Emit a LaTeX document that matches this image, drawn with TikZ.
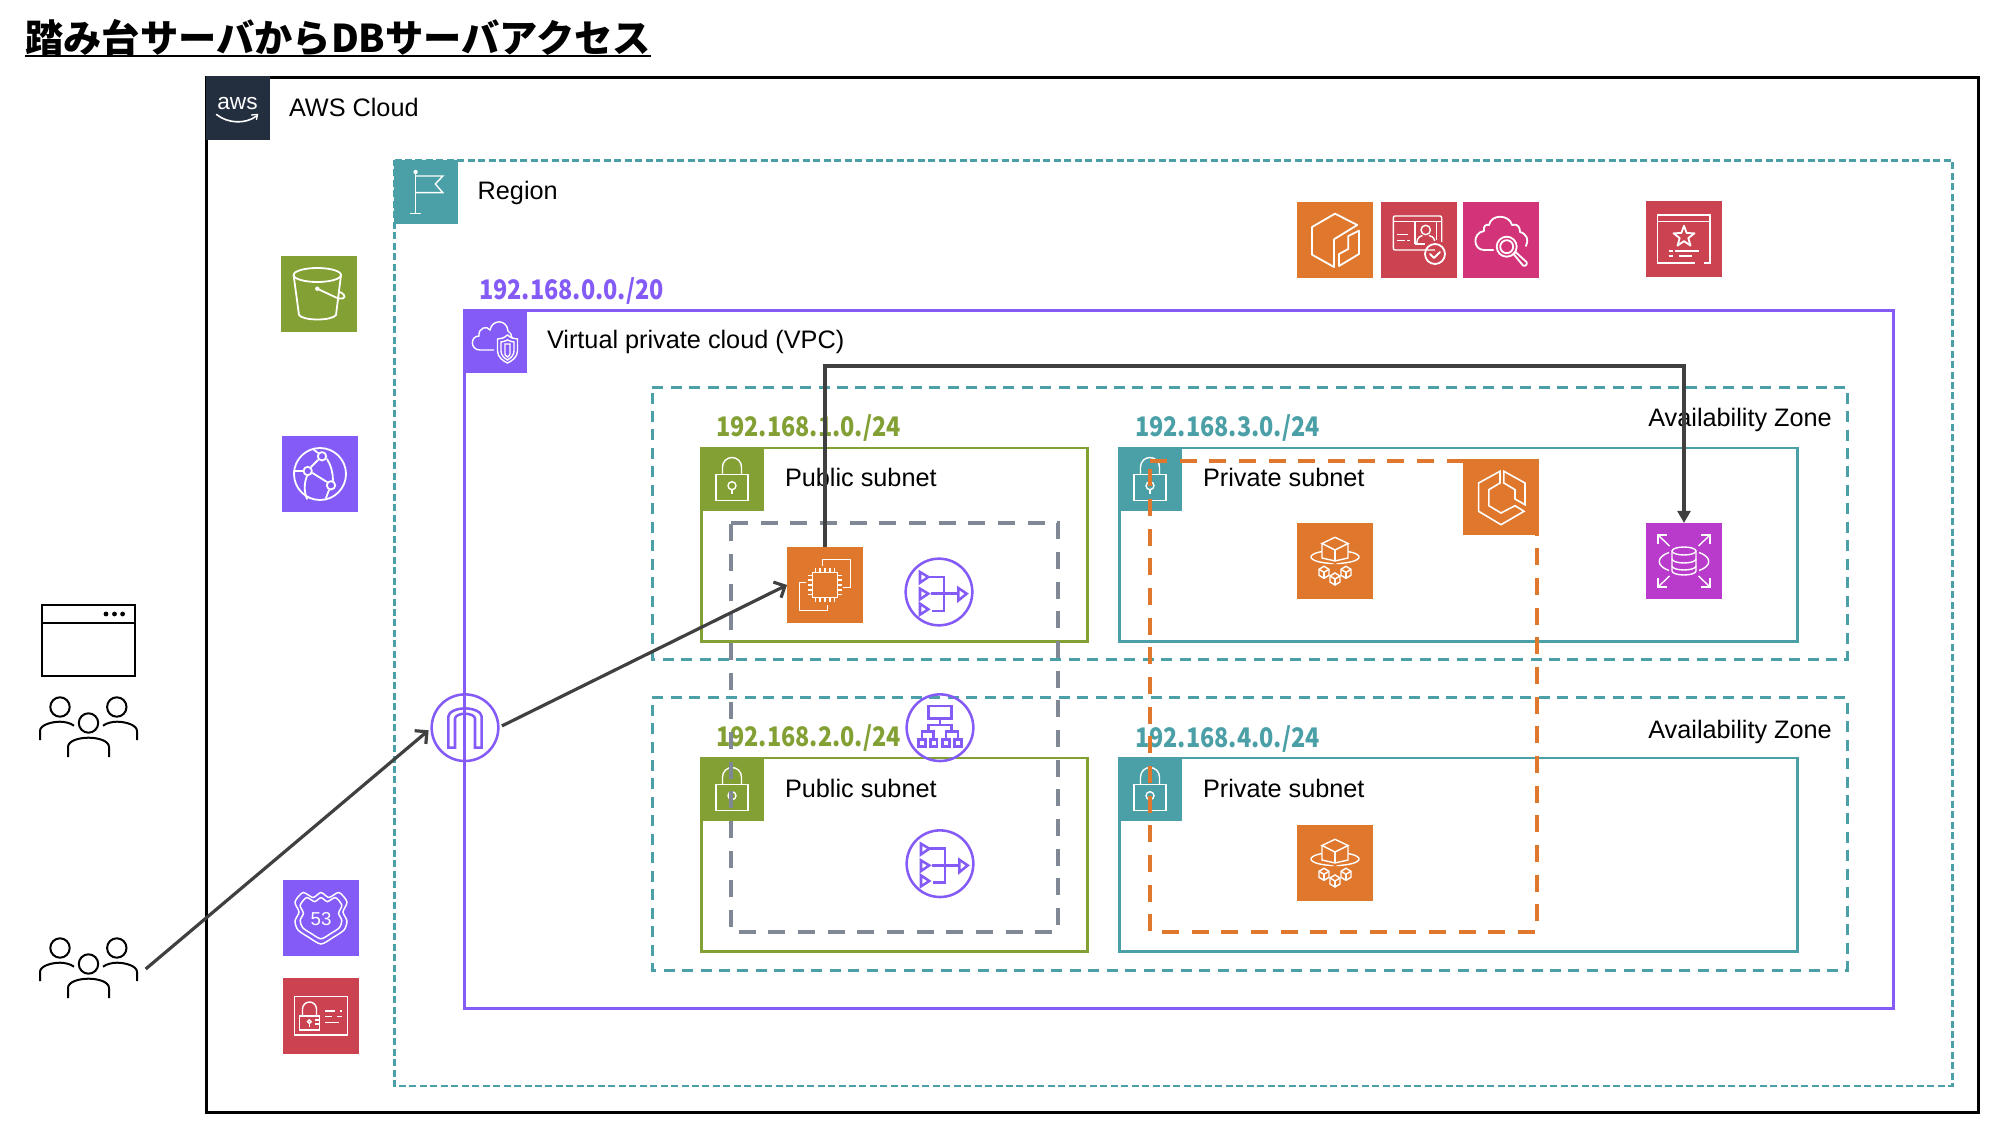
\documentclass[tikz,border=0pt]{standalone}
\usepackage{fontspec}
\setmainfont{Liberation Sans}
\newfontfamily\cjk{Noto Sans CJK JP}
\newfontfamily\cjkn[FakeStretch=0.87]{Noto Sans CJK JP}
\usetikzlibrary{arrows.meta}
\definecolor{awsdark}{HTML}{232F3E}
\definecolor{cteal}{HTML}{4AA0A6}
\definecolor{cgreen}{HTML}{83A034}
\definecolor{cpurple}{HTML}{845BF6}
\definecolor{corange}{HTML}{DF772D}
\definecolor{cred}{HTML}{CB4250}
\definecolor{cpink}{HTML}{D33379}
\definecolor{cmag}{HTML}{B93BCB}
\definecolor{cgray}{HTML}{808895}
\definecolor{carrow}{HTML}{404040}
\tikzset{
 ic/.style={draw=white,line width=1.35pt,line join=round,line cap=round},
 ict/.style={draw=white,line width=1.05pt,line join=miter},
 icp/.style={draw=cpurple,line width=1.9pt,line join=miter},
 ick/.style={draw=black,line width=1.5pt},
 iconbox/.style={rectangle,minimum width=57pt,minimum height=57pt,inner sep=0pt,outer sep=0pt},
 hdbox/.style={rectangle,minimum width=48pt,minimum height=48pt,inner sep=0pt,outer sep=0pt},
 gwcircle/.style={circle,draw=cpurple,line width=1.9pt,minimum size=50pt,inner sep=0pt,outer sep=0pt},
 groupbox/.style={rectangle,minimum width=85.8pt,minimum height=45pt,inner sep=0pt,outer sep=0pt},
 txt/.style={anchor=base west,inner sep=0pt,outer sep=0pt,font=\fontsize{18.95pt}{22pt}\selectfont},
 cidr/.style={anchor=base west,inner sep=0pt,outer sep=0pt,font=\cjkn\bfseries\fontsize{20.2pt}{24pt}\selectfont},
 az/.style={draw=cteal,line width=2pt,dash pattern=on 8.25pt off 5.6pt},
 reg/.style={draw=cteal,line width=2pt,dash pattern=on 5.25pt off 2.6pt},
 subg/.style={draw=cgreen,line width=2pt},
 subt/.style={draw=cteal,line width=2pt},
 grpgray/.style={draw=cgray,line width=3pt,dash pattern=on 12.75pt off 9.5pt},
 grporange/.style={draw=corange,line width=3pt,dash pattern=on 12.75pt off 9.5pt},
 arrline/.style={draw=carrow,line width=2.4pt,line join=miter},
 barb/.style={arrline,-{Straight Barb[length=6.5pt,width=13pt,line width=2.4pt]}},
 solid tip/.style={arrline,-{Triangle[length=9pt,width=9.5pt]}},
 lockicon/.pic={
  \draw[ict] (-16,-4.3) rectangle (16,21.3);
  \draw[ict] (-9.5,-4.3) -- (-9.5,-12) arc[start angle=180,end angle=360,radius=9.5] -- (9.5,-4.3);
  \draw[ict] (0,6.7) circle[radius=4];
  \draw[ict] (0,10.7) -- (0,15.5);
 },
 flagicon/.pic={
  \draw[ict] (-10.4,-20) -- (-10.4,21.3);
  \fill[white] (-10.4,-20) circle[radius=2.2];
  \draw[ict] (-10.4,-16) -- (16.9,-16) -- (9.3,-8) -- (16.9,0.7) -- (-10.4,0.7);
  \draw[ict] (-16,21.3) -- (-5,21.3);
 },
 awsicon/.pic={
  \node[inner sep=0pt,text=white,font=\fontsize{17pt}{20pt}\selectfont,anchor=base] (awstxt) at (0,0.8) {aws};
  \draw[draw=white,line width=1.2pt,line cap=round] (-21,6) .. controls (-10,15) and (8,16) .. (19,7.5);
  \draw[draw=white,line width=1pt,line cap=round] (14,6.5) -- (20,6) -- (19,11);
 },
 vpcicon/.pic={
  \draw[ict] (-1,9) -- (-15,9) .. controls (-25,9) and (-25,-5) .. (-16,-5) .. controls (-17,-13) and (-8,-16) .. (-5,-11) .. controls (-3,-22) and (12,-22) .. (13,-10) .. controls (15,-9) and (17,-6) .. (17,-3);
  \draw[ict] (12.5,-6) .. controls (9,-3) and (6,-2) .. (2.5,-2) -- (2.5,10) .. controls (2.5,16) and (8,20) .. (12.5,22) .. controls (17,20) and (22.5,16) .. (22.5,10) -- (22.5,-2) .. controls (19,-2) and (16,-3) .. (12.5,-6) -- cycle;
  \draw[ict] (12.5,-1) .. controls (10,0) and (8,1) .. (6,1) -- (6,10) .. controls (6,14) and (9,17) .. (12.5,19) .. controls (16,17) and (19,14) .. (19,10) -- (19,1) .. controls (17,1) and (15,0) .. (12.5,-1) -- cycle;
  \draw[ict] (10,3) -- (10,13) .. controls (10,14) and (11,15) .. (12.5,16) .. controls (14,15) and (15,14) .. (15,13) -- (15,3) -- cycle;
 },
 sthreeicon/.pic={
  \draw[ic] (-1.7,-19) ellipse[x radius=23.7,y radius=7];
  \draw[ic] (-25.4,-19) -- (-20,21) .. controls (-16,27) and (13,27) .. (17,21) -- (22,-19);
  \fill[white] (-1.7,-5.3) circle[radius=2.2];
  \draw[ic] (-1.7,-5.3) -- (17,3.5) .. controls (23,6) and (27,4) .. (25,1) .. controls (24,-1) and (21,-2) .. (20,-2);
 },
 cficon/.pic={
  \draw[ic] (0,0) circle[radius=26];
  \draw[ic] (2,-17.7) circle[radius=4.2];
  \draw[ic] (-12.3,-3) circle[radius=4.2];
  \draw[ic] (11,11.3) circle[radius=4.2];
  \draw[ic] (-9,-7) -- (-2,-14);
  \draw[ic] (-7.5,-1) -- (7,8);
  \draw[ic] (7,-15) .. controls (11,-9) and (13,-1) .. (13,6.5);
  \draw[ic] (-26,-3) -- (-17,-3);
  \draw[ic] (-13,2) .. controls (-16,9) and (-16,18) .. (-13,25);
  \draw[ic] (9,16) -- (6,24);
  \draw[ic] (-7,-25) -- (-2,-21);
 },
 rfiftyicon/.pic={
  \foreach \s in {1,0.8}{
   \draw[draw=white,line width=1.1pt,scale=\s] plot[smooth cycle,tension=.45] coordinates {(0,-25.5) (-8,-20.5) (-18,-25.5) (-26,-16) (-22,-6) (-26,3) (-23,12) (-12,19.5) (0,26) (12,19.5) (23,12) (26,3) (22,-6) (26,-16) (18,-25.5) (8,-20.5)};
  }
  \node[inner sep=0pt,text=white,font=\fontsize{14pt}{16pt}\selectfont] (rftxt) at (0,1) {53};
 },
 idlockicon/.pic={
  \draw[ict] (-26.3,-19.3) rectangle (26.3,19);
  \draw[ict] (-21.7,0) rectangle (-1.7,14);
  \draw[ict] (-18.5,0) -- (-18.5,-7) arc[start angle=180,end angle=360,radius=7] -- (-4.5,0);
  \draw[ict] (-11.7,5.7) circle[radius=1.8];
  \draw[ict] (-11.7,7.5) -- (-11.7,11);
  \draw[ict] (-6,4) -- (-1.7,4); \draw[ict] (-6,8) -- (-1.7,8);
  \draw[ict] (4,-5) -- (14,-5); \draw[ict] (19,-5) -- (21,-5);
  \draw[ict] (4,0.7) -- (10.7,0.7); \draw[ict] (15.7,0.7) -- (21,0.7);
  \draw[ict] (4,6.7) -- (18,6.7);
 },
 cubeicon/.pic={
  \draw[ic] (0,-26.3) -- (22.3,-15) -- (-1,-0.7) -- (-1,27) -- (-23,14.7) -- (-23,-13) -- cycle;
  \draw[ic] (24,-9.3) -- (24,14) -- (4,26) -- (4,14) -- (13.3,9) -- (13.3,-4) -- cycle;
 },
 idcheckicon/.pic={
  \draw[ict] (16,10) -- (-23.7,10) .. controls (-25,10) and (-25.7,9.5) .. (-25.7,8) -- (-25.7,-22) .. controls (-25.7,-23.5) and (-25,-24) .. (-23.7,-24) -- (20.7,-24) .. controls (22,-24) and (22.7,-23.5) .. (22.7,-22) -- (22.7,2);
  \draw[ict] (-25.7,-18.3) -- (22.7,-18.3);
  \draw[ict] (-4,4) -- (-4,-18.3) -- (17.7,-18.3) -- (17.7,0);
  \draw[ict] (-4,4) -- (6,4);
  \draw[ict] (6.7,-10) circle[radius=4.7];
  \draw[ict] (-2.3,3) .. controls (-2,-3) and (2,-4) .. (3.5,-4.5);
  \draw[ict] (15.7,1) .. controls (15,-3) and (12,-4) .. (10,-4.5);
  \draw[ict] (-21.7,-5.7) -- (-11,-5.7);
  \draw[ict] (-21.7,0.7) -- (-14,0.7); \draw[ict] (-12,0.7) -- (-9,0.7);
  \draw[ic] (16,14) circle[radius=10];
  \draw[ic] (11,14) -- (15,18) -- (21,12);
 },
 cloudsearchicon/.pic={
  \draw[ic] (-7.7,10) -- (-17,10) .. controls (-28,10) and (-29,-7) .. (-17,-9) .. controls (-18,-14) and (-15,-16) .. (-12,-15) .. controls (-10,-26) and (8,-26) .. (11,-15) .. controls (17,-17) and (19,-12) .. (19,-8) .. controls (26,-6) and (28,0) .. (25,6);
  \draw[ic] (5.7,6.7) circle[radius=10];
  \draw[ic] (5.7,6.7) circle[radius=6.5];
  \draw[ic] (12.5,14) -- (14.5,12) -- (25.5,22) .. controls (27,24) and (24,27) .. (22,25.5) -- (12.5,14);
 },
 starcerticon/.pic={
  \draw[ict] (11,24) -- (-26.3,24) -- (-26.3,-24) -- (26,-24) -- (26,24) -- (20,24);
  \draw[ict] (-26.3,-17.3) -- (26,-17.3);
  \draw[ic] (0,-13.3) -- (2.6,-6) -- (10.5,-5.7) -- (4.3,-0.9) -- (6.5,6.6) -- (0,2.2) -- (-6.5,6.6) -- (-4.3,-0.9) -- (-10.5,-5.7) -- (-2.6,-6) -- cycle;
  \draw[ict] (-15.5,12) -- (-11,12); \draw[ict] (-9,12) -- (15,12);
  \draw[ict] (-15.5,17) -- (-11,17); \draw[ict] (-5.5,17) -- (7.5,17);
 },
 ectwoicon/.pic={
  \draw[ict] (-12.7,-12.3) rectangle (12.3,12.7);
  \foreach \d in {-9.7,-5,0,5,9.3}{
   \draw[ict] (\d,-12.3) -- (\d,-16.5);
   \draw[ict] (\d,12.7) -- (\d,17);
   \draw[ict] (-12.7,\d) -- (-17,\d);
   \draw[ict] (12.3,\d) -- (16.5,\d);
  }
  \draw[ict] (-2.3,-19.3) -- (-2.3,-25.7) -- (25.7,-25.7) -- (25.7,2.3) -- (18.3,2.3);
  \draw[ict] (-19,-2.3) -- (-25.7,-2.3) -- (-25.7,25.7) -- (2.3,25.7) -- (2.3,20);
 },
 ecsicon/.pic={
  \draw[ict,line width=1.2pt] (-1,-25.7) -- (-22.4,-14) -- (-22.4,14.3) -- (0,27.7) -- (23,14.3) -- (14,8.7) -- (0,16) -- (-12.2,8.7) -- (-12.2,-7.3) -- (-1,-14) -- cycle;
  \draw[ict,line width=1.2pt] (2.9,-25.7) -- (24,-14) -- (24,7.7) -- (14,2) -- (14,-7.3) -- (2.9,-14) -- cycle;
 },
 fargateicon/.pic={
  \draw[ict] (0,-4) ellipse[x radius=24,y radius=6.5];
  \fill[corange] (-13,-17.5) rectangle (13,-1) (-13,-1) -- (0,-0.5) -- (13,-1) -- (0,3) -- cycle;
  \draw[ict] (0,-23.7) -- (13,-17.5) -- (0,-11) -- (-13,-17.5) -- cycle;
  \draw[ict] (-13,-17.5) -- (-13,-3) -- (0,0) -- (13,-3) -- (13,-17.5);
  \draw[ict] (0,-11) -- (0,0);
  \foreach \cx/\cy in {-11/11.3,11/11.3,0/18}{
   \draw[ict] (\cx,\cy-6) -- (\cx+5,\cy-3) -- (\cx+5,\cy+3) -- (\cx,\cy+6) -- (\cx-5,\cy+3) -- (\cx-5,\cy-3) -- cycle;
   \draw[ict] (\cx-5,\cy-3) -- (\cx,\cy) -- (\cx+5,\cy-3);
   \draw[ict] (\cx,\cy) -- (\cx,\cy+6);
  }
 },
 rdsicon/.pic={
  \draw[ict] (-12,-10) -- (-12,10) arc[start angle=180,end angle=0,x radius=12,y radius=4] -- (12,-10);
  \draw[ict] (0,-10) ellipse[x radius=12,y radius=4];
  \draw[ict] (-12,-2) arc[start angle=180,end angle=0,x radius=12,y radius=4];
  \draw[ict] (-12,5) arc[start angle=180,end angle=0,x radius=12,y radius=4];
  \draw[ict] (-15,-8.5) .. controls (-28,-4) and (-28,5) .. (-15,9.5);
  \draw[ict] (15,-8.5) .. controls (28,-4) and (28,5) .. (15,9.5);
  \foreach \sx/\sy in {-1/-1,1/-1,-1/1,1/1}{
   \begin{scope}[xscale=\sx,yscale=\sy]
    \draw[ict] (14.5,15) -- (26,26);
    \draw[ict] (26,17) -- (26,26) -- (17,26);
   \end{scope}
  }
 },
 nat icon/.pic={
  \draw[icp] (-19,-20) -- (-10.7,-15) -- (-19,-9.3) -- cycle;
  \draw[icp] (-19,-3.3) -- (-10.7,1.7) -- (-19,7.3) -- cycle;
  \draw[icp] (-19,11.7) -- (-10.7,17.3) -- (-19,22.7) -- cycle;
  \draw[icp] (-10.7,-15) -- (5,-15) -- (5,19) -- (-7.3,19);
  \draw[icp] (-8.3,1.7) -- (19,1.7);
  \draw[icp] (19.3,-4) -- (27.7,1.7) -- (19.3,8.5) -- cycle;
 },
 alb icon/.pic={
  \draw[icp] (-11.7,-21.7) rectangle (11.7,-9.3);
  \draw[icp] (0,-9.3) -- (0,-2.7);
  \draw[icp] (-11.7,3) -- (-11.7,-2.7) -- (11.7,-2.7) -- (11.7,3);
  \draw[icp] (-18,11.7) -- (-18,4) -- (-6.3,4) -- (-6.3,11.7);
  \draw[icp] (18,11.7) -- (18,4) -- (6,4) -- (6,11.7);
  \foreach \cx in {-18,-6.3,6,18}{\draw[icp] (\cx-3.3,11.7) rectangle (\cx+3.3,19);}
 },
 igw icon/.pic={
  \draw[icp] (-16.7,20) -- (-16.7,-11) .. controls (-16.7,-16) and (-8,-19.3) .. (0,-19.3) .. controls (8,-19.3) and (16.7,-16) .. (16.7,-11) -- (16.7,20) -- (10,20) -- (10,-9) .. controls (10,-12) and (5,-14) .. (0,-14) .. controls (-5,-14) and (-10,-12) .. (-10,-9) -- (-10,20) -- cycle;
 },
 usersicon/.pic={
  \draw[ick] (-28.5,-23) circle[radius=9.7];
  \draw[ick] (28.3,-23) circle[radius=9.7];
  \draw[ick] (0,-7) circle[radius=9.7];
  \draw[ick] (-48.5,10) -- (-48.5,1) .. controls (-48.5,-5) and (-37,-8.3) .. (-28.5,-8.3) .. controls (-24,-8.3) and (-18,-7) .. (-14.5,-4.3);
  \draw[ick] (48.5,10) -- (48.5,1) .. controls (48.5,-5) and (37,-8.3) .. (28.5,-8.3) .. controls (24,-8.3) and (18,-7) .. (14.5,-4.3);
  \draw[ick] (-20.5,27) -- (-20.5,17) .. controls (-20.5,11) and (-10,7.7) .. (0,7.7) .. controls (10,7.7) and (20.5,11) .. (20.5,17) -- (20.5,27);
 },
}
\begin{document}
\begin{tikzpicture}[x=0.75pt,y=-0.75pt]
\useasboundingbox (0,0) rectangle (2010,1126);
\fill[white] (0,0) rectangle (2010,1126);
% title
\node[anchor=base west,inner sep=0pt,font=\cjk\bfseries\fontsize{28.7pt}{32pt}\selectfont] (title) at (25,53) {踏み台サーバからDBサーバアクセス};
\draw[black,line width=2pt] (25,56) -- (651,56);
% containers
\draw[black,line width=2.25pt] (206,77.5) rectangle (1978.3,1112.3);
\draw[reg] (394.5,160.5) -- (1952.3,160.5) -- (1952.3,1086) -- (394.5,1086) -- cycle;
\draw[draw=cpurple,line width=2pt] (464.7,310.5) rectangle (1893.7,1008.3);
\draw[az] (652.3,387.3) -- (1847.3,387.3) -- (1847.3,659.3) -- (652.3,659.3) -- cycle;
\draw[az] (652.3,697.3) -- (1847.3,697.3) -- (1847.3,970.3) -- (652.3,970.3) -- cycle;
\draw[subg] (701.3,448) rectangle (1087.7,641.3);
\draw[subg] (701.3,758) rectangle (1087.7,951.5);
\draw[subt] (1119.5,448) rectangle (1797.3,641.3);
\draw[subt] (1119.5,758) rectangle (1797.3,951.5);
% header icons
\node[hdbox,fill=awsdark] (hdaws) at (237.5,108.5) {};
\pic at (hdaws) {awsicon};
\node[hdbox,fill=cteal] (hdregion) at (426,192) {};
\pic at (hdregion) {flagicon};
\node[hdbox,fill=cpurple] (hdvpc) at (495,341) {};
\pic at (hdvpc) {vpcicon};
\node[hdbox,fill=cgreen] (hdpub1) at (732,479) {};
\pic at (hdpub1) {lockicon};
\node[hdbox,fill=cgreen] (hdpub2) at (732,789) {};
\pic at (hdpub2) {lockicon};
\node[hdbox,fill=cteal] (hdpri1) at (1150,479) {};
\pic at (hdpri1) {lockicon};
\node[hdbox,fill=cteal] (hdpri2) at (1150,789) {};
\pic at (hdpri2) {lockicon};
% texts
\node[txt] (tcloud) at (289,116.7) {AWS Cloud};
\node[txt] (tregion) at (477.7,200) {Region};
\node[txt] (tvpc) at (547,349) {Virtual private cloud (VPC)};
\node[txt] (taz1) at (1648.3,426.7) {Availability Zone};
\node[txt] (taz2) at (1648.3,738) {Availability Zone};
\node[txt] (tpub1) at (785,487) {Public subnet};
\node[txt] (tpub2) at (785,797.7) {Public subnet};
\node[txt] (tpri1) at (1203,487) {Private subnet};
\node[txt] (tpri2) at (1203,797.7) {Private subnet};
\node[cidr,text=cpurple] (cvpc) at (479,300) {192.168.0.0./20};
\node[cidr,text=cgreen] (c1) at (716,436.7) {192.168.1.0./24};
\node[cidr,text=cgreen] (c2) at (716,746.7) {192.168.2.0./24};
\node[cidr,text=cteal] (c3) at (1135,436.7) {192.168.3.0./24};
\node[cidr,text=cteal] (c4) at (1135,747.7) {192.168.4.0./24};
% service icons
\node[iconbox,fill=cgreen] (sthree) at (319,294) {};
\pic at (sthree) {sthreeicon};
\node[iconbox,fill=cpurple] (cf) at (320,474) {};
\pic at (cf) {cficon};
\node[iconbox,fill=cpurple] (rfifty) at (321,918) {};
\pic at (rfifty) {rfiftyicon};
\node[iconbox,fill=cred] (idlock) at (321,1016) {};
\pic at (idlock) {idlockicon};
\node[iconbox,fill=corange] (cube) at (1335,240) {};
\pic at (cube) {cubeicon};
\node[iconbox,fill=cred] (idcheck) at (1419,240) {};
\pic at (idcheck) {idcheckicon};
\node[iconbox,fill=cpink] (cloudsearch) at (1501,240) {};
\pic at (cloudsearch) {cloudsearchicon};
\node[iconbox,fill=cred] (starcert) at (1684,239) {};
\pic at (starcert) {starcerticon};
\node[iconbox,fill=corange] (ec2) at (825,585) {};
\pic at (ec2) {ectwoicon};
\node[gwcircle] (nat1) at (939,592) {};
\pic at (nat1) {nat icon};
\node[gwcircle] (alb) at (940,727.7) {};
\pic at (alb) {alb icon};
\node[gwcircle] (nat2) at (940,863.7) {};
\pic at (nat2) {nat icon};
\node[gwcircle] (igw) at (465,727.7) {};
\pic at (igw) {igw icon};
\node[iconbox,fill=corange] (fargate1) at (1335,561) {};
\pic at (fargate1) {fargateicon};
\node[iconbox,fill=corange] (fargate2) at (1335,863) {};
\pic at (fargate2) {fargateicon};
\node[iconbox,fill=cmag] (rds) at (1684,561) {};
\pic at (rds) {rdsicon};
% group frames
\draw[grpgray] (731,523) -- (1058,523) -- (1058,932) -- (731,932) -- cycle;
\draw[grporange] (1150,460.7) -- (1537,460.7) -- (1537,932) -- (1150,932) -- cycle;
\node[iconbox,fill=corange] (ecs) at (1501,497) {};
\pic at (ecs) {ecsicon};
% users, browser
\node[groupbox] (users1) at (88.5,730) {};
\pic at (users1) {usersicon};
\node[groupbox] (users2) at (88.5,969) {};
\pic at ([yshift=-1.5pt]users2) {usersicon};
\node[rectangle,draw=black,line width=1.5pt,minimum width=69.75pt,minimum height=53.25pt,inner sep=0pt,outer sep=0pt] (browser) at (88.5,640.5) {};
\coordinate (hdrline) at (0,623);
\draw[ick] (browser.west |- hdrline) -- (browser.east |- hdrline);
\foreach \dx in {106,114.5,122.6}{\fill[black] (\dx,614) circle[radius=2.4];}
% connectors
\coordinate (route) at (1000,366);
\draw[barb,shorten >=3pt] (users2.east) -- (igw.west);
\draw[barb,shorten <=3pt] (igw.east) -- (ec2.west);
\draw[solid tip] (ec2.north) -- (ec2.north |- route) -- (rds.north |- route) -- (rds.north);
\end{tikzpicture}
\end{document}
